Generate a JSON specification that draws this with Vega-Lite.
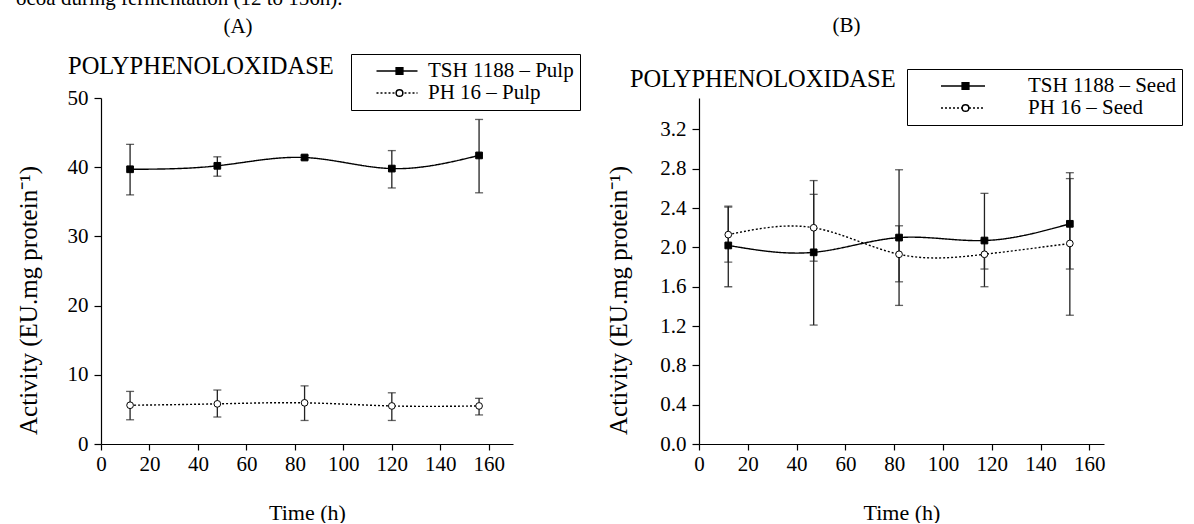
{
  "$schema": "https://vega.github.io/schema/vega-lite/v6.json",
  "background": "white",
  "padding": {"left": 16, "top": -12, "right": 0, "bottom": 0},
  "title": {"text": "ocoa during fermentation (12 to 156h).", "anchor": "start", "frame": "bounds", "offset": 6, "fontSize": 21, "fontWeight": "normal", "font": "Liberation Serif", "color": "#000"},
  "config": {
    "font": "Liberation Serif",
    "view": {"stroke": null},
    "axis": {"grid": false, "domainColor": "#000", "domainWidth": 1.2, "tickColor": "#000", "tickWidth": 1.2, "labelFont": "Liberation Serif", "labelFontSize": 21, "labelColor": "#000", "titleFont": "Liberation Serif", "titleFontSize": 22, "titleFontWeight": "normal", "titleColor": "#000", "labelOverlap": false, "labelFlush": false},
    "legend": {"orient": "none", "title": null, "labelFont": "Liberation Serif", "labelFontSize": 21, "labelColor": "#000", "padding": 6, "rowPadding": 0},
    "title": {"fontSize": 21, "fontWeight": "normal", "color": "#000", "font": "Liberation Serif"}
  },
  "datasets": {
    "pulp": [
      {"series": "TSH 1188 – Pulp", "time": 12, "activity": 39.7, "lo": 36.0, "hi": 43.3},
      {"series": "TSH 1188 – Pulp", "time": 48, "activity": 40.2, "lo": 38.7, "hi": 41.5},
      {"series": "TSH 1188 – Pulp", "time": 84, "activity": 41.4, "lo": 41.1, "hi": 41.7},
      {"series": "TSH 1188 – Pulp", "time": 120, "activity": 39.8, "lo": 37.0, "hi": 42.4},
      {"series": "TSH 1188 – Pulp", "time": 156, "activity": 41.7, "lo": 36.3, "hi": 46.9},
      {"series": "PH 16 – Pulp", "time": 12, "activity": 5.6, "lo": 3.5, "hi": 7.6},
      {"series": "PH 16 – Pulp", "time": 48, "activity": 5.8, "lo": 3.9, "hi": 7.8},
      {"series": "PH 16 – Pulp", "time": 84, "activity": 5.95, "lo": 3.4, "hi": 8.4},
      {"series": "PH 16 – Pulp", "time": 120, "activity": 5.5, "lo": 3.4, "hi": 7.4},
      {"series": "PH 16 – Pulp", "time": 156, "activity": 5.5, "lo": 4.2, "hi": 6.6}
    ],
    "seed": [
      {"series": "TSH 1188 – Seed", "time": 12, "activity": 2.02, "lo": 1.60, "hi": 2.42},
      {"series": "TSH 1188 – Seed", "time": 47, "activity": 1.95, "lo": 1.21, "hi": 2.68},
      {"series": "TSH 1188 – Seed", "time": 82, "activity": 2.10, "lo": 1.41, "hi": 2.79},
      {"series": "TSH 1188 – Seed", "time": 117, "activity": 2.07, "lo": 1.60, "hi": 2.55},
      {"series": "TSH 1188 – Seed", "time": 152, "activity": 2.24, "lo": 1.78, "hi": 2.70},
      {"series": "PH 16 – Seed", "time": 12, "activity": 2.13, "lo": 1.85, "hi": 2.41},
      {"series": "PH 16 – Seed", "time": 47, "activity": 2.20, "lo": 1.86, "hi": 2.54},
      {"series": "PH 16 – Seed", "time": 82, "activity": 1.93, "lo": 1.65, "hi": 2.22},
      {"series": "PH 16 – Seed", "time": 117, "activity": 1.93, "lo": 1.78, "hi": 2.08},
      {"series": "PH 16 – Seed", "time": 152, "activity": 2.04, "lo": 1.31, "hi": 2.76}
    ]
  },
  "bounds": "flush",
  "spacing": 186,
  "resolve": {"scale": {"strokeDash": "independent", "shape": "independent", "fill": "independent"}, "legend": {"strokeDash": "independent", "shape": "independent", "fill": "independent"}},
  "hconcat": [
    {
      "width": 412,
      "height": 346,
      "title": {"text": "(A)", "anchor": "middle", "dx": -69, "offset": 17},
      "layer": [
        {
          "data": {"name": "pulp"},
          "mark": {"type": "errorbar", "ticks": true, "size": 8, "thickness": 1.3, "color": "#222"},
          "encoding": {
            "x": {"field": "time", "type": "quantitative", "title": "Time (h)", "scale": {"domain": [0, 170], "nice": false},
              "axis": {"values": [0, 10, 20, 30, 40, 50, 60, 70, 80, 90, 100, 110, 120, 130, 140, 150, 160, 170], "labelExpr": "datum.value % 20 === 0 ? datum.label : ''", "tickSize": {"condition": {"test": "datum.value % 20 === 0", "value": 6}, "value": 4}, "labelPadding": 3, "titlePadding": 28}},
            "y": {"field": "lo", "type": "quantitative", "title": "Activity (EU.mg protein⁻¹)", "scale": {"domain": [0, 50], "nice": false},
              "axis": {"values": [0, 2.5, 5, 7.5, 10, 12.5, 15, 17.5, 20, 22.5, 25, 27.5, 30, 32.5, 35, 37.5, 40, 42.5, 45, 47.5, 50], "labelExpr": "datum.value % 5 === 0 ? datum.label : ''", "tickSize": {"condition": {"test": "datum.value % 5 === 0", "value": 7}, "value": 4}, "labelPadding": 6, "titlePadding": 26, "titleY": 202, "titleFontSize": 25}},
            "y2": {"field": "hi"}
          }
        },
        {
          "data": {"name": "pulp"},
          "mark": {"type": "line", "interpolate": "natural", "color": "#000", "strokeWidth": 1.4},
          "encoding": {
            "x": {"field": "time", "type": "quantitative"},
            "y": {"field": "activity", "type": "quantitative"},
            "strokeDash": {"field": "series", "type": "nominal", "scale": {"domain": ["TSH 1188 – Pulp", "PH 16 – Pulp"], "range": [[1, 0], [2, 2]]},
              "legend": {"legendX": 250, "legendY": -44, "symbolType": "stroke", "symbolSize": 1681, "symbolStrokeWidth": 1.4, "symbolStrokeColor": "#000", "clipHeight": 22, "symbolOffset": 18.5, "labelOffset": 9.5, "strokeColor": "#000", "zindex": 1}}
          }
        },
        {
          "data": {"name": "pulp"},
          "mark": {"type": "point", "filled": true, "size": 45, "stroke": "#000", "strokeWidth": 1, "opacity": 1},
          "encoding": {
            "x": {"field": "time", "type": "quantitative"},
            "y": {"field": "activity", "type": "quantitative"},
            "shape": {"field": "series", "type": "nominal", "sort": "descending", "scale": {"range": ["square", "circle"]},
              "legend": {"legendX": 250, "legendY": -44, "symbolSize": 45, "clipHeight": 22, "symbolOffset": 32, "labelColor": "transparent", "zindex": 2,
                "encode": {"symbols": {"update": {"stroke": {"value": "#000"}, "strokeWidth": {"value": 1}, "opacity": {"value": 1}}}}}},
            "fill": {"field": "series", "type": "nominal", "sort": "descending", "scale": {"range": ["#000", "#fff"]},
              "legend": {"legendX": 250, "legendY": -44, "symbolSize": 45, "clipHeight": 22, "symbolOffset": 32, "labelColor": "transparent", "zindex": 2,
                "encode": {"symbols": {"update": {"stroke": {"value": "#000"}, "strokeWidth": {"value": 1}, "opacity": {"value": 1}}}}}}
          }
        },
        {
          "data": {"values": [{"label": "POLYPHENOLOXIDASE"}]},
          "mark": {"type": "text", "align": "left", "baseline": "middle", "fontSize": 24.5, "color": "#000", "clip": false},
          "encoding": {
            "x": {"datum": -13.6, "type": "quantitative"},
            "y": {"datum": 54.5, "type": "quantitative"},
            "text": {"field": "label"}
          }
        }
      ]
    },
    {
      "width": 405,
      "height": 346,
      "title": {"text": "(B)", "anchor": "middle", "dx": -55, "offset": 31},
      "layer": [
        {
          "data": {"name": "seed"},
          "mark": {"type": "errorbar", "ticks": true, "size": 8, "thickness": 1.3, "color": "#222"},
          "encoding": {
            "x": {"field": "time", "type": "quantitative", "title": "Time (h)", "scale": {"domain": [0, 166], "nice": false},
              "axis": {"values": [0, 10, 20, 30, 40, 50, 60, 70, 80, 90, 100, 110, 120, 130, 140, 150, 160], "labelExpr": "datum.value % 20 === 0 ? datum.label : ''", "tickSize": {"condition": {"test": "datum.value % 20 === 0", "value": 6}, "value": 4}, "labelPadding": 3, "titlePadding": 28}},
            "y": {"field": "lo", "type": "quantitative", "title": "Activity (EU.mg protein⁻¹)", "scale": {"domain": [0, 3.52], "nice": false},
              "axis": {"values": [0, 0.2, 0.4, 0.6, 0.8, 1.0, 1.2, 1.4, 1.6, 1.8, 2.0, 2.2, 2.4, 2.6, 2.8, 3.0, 3.2, 3.4], "labelExpr": "round(datum.value * 10) % 4 === 0 ? format(datum.value, '.1f') : ''", "tickSize": {"condition": {"test": "round(datum.value * 10) % 4 === 0", "value": 7}, "value": 4}, "labelPadding": 6, "titlePadding": 28, "titleY": 202, "titleFontSize": 25}},
            "y2": {"field": "hi"}
          }
        },
        {
          "data": {"name": "seed"},
          "mark": {"type": "line", "interpolate": "natural", "color": "#000", "strokeWidth": 1.4},
          "encoding": {
            "x": {"field": "time", "type": "quantitative"},
            "y": {"field": "activity", "type": "quantitative"},
            "strokeDash": {"field": "series", "type": "nominal", "scale": {"domain": ["TSH 1188 – Seed", "PH 16 – Seed"], "range": [[1, 0], [2, 2]]},
              "legend": {"legendX": 208, "legendY": -29, "symbolType": "stroke", "symbolSize": 1936, "symbolStrokeWidth": 1.4, "symbolStrokeColor": "#000", "clipHeight": 22, "symbolOffset": 27, "labelOffset": 42, "strokeColor": "#000", "zindex": 1}}
          }
        },
        {
          "data": {"name": "seed"},
          "mark": {"type": "point", "filled": true, "size": 45, "stroke": "#000", "strokeWidth": 1, "opacity": 1},
          "encoding": {
            "x": {"field": "time", "type": "quantitative"},
            "y": {"field": "activity", "type": "quantitative"},
            "shape": {"field": "series", "type": "nominal", "sort": "descending", "scale": {"range": ["square", "circle"]},
              "legend": {"legendX": 208, "legendY": -29, "symbolSize": 45, "clipHeight": 22, "symbolOffset": 42, "labelColor": "transparent", "zindex": 2,
                "encode": {"symbols": {"update": {"stroke": {"value": "#000"}, "strokeWidth": {"value": 1}, "opacity": {"value": 1}}}}}},
            "fill": {"field": "series", "type": "nominal", "sort": "descending", "scale": {"range": ["#000", "#fff"]},
              "legend": {"legendX": 208, "legendY": -29, "symbolSize": 45, "clipHeight": 22, "symbolOffset": 42, "labelColor": "transparent", "zindex": 2,
                "encode": {"symbols": {"update": {"stroke": {"value": "#000"}, "strokeWidth": {"value": 1}, "opacity": {"value": 1}}}}}}
          }
        },
        {
          "data": {"values": [{"label": "POLYPHENOLOXIDASE"}]},
          "mark": {"type": "text", "align": "left", "baseline": "middle", "fontSize": 24.5, "color": "#000", "clip": false},
          "encoding": {
            "x": {"datum": -28.3, "type": "quantitative"},
            "y": {"datum": 3.70, "type": "quantitative"},
            "text": {"field": "label"}
          }
        }
      ]
    }
  ]
}
